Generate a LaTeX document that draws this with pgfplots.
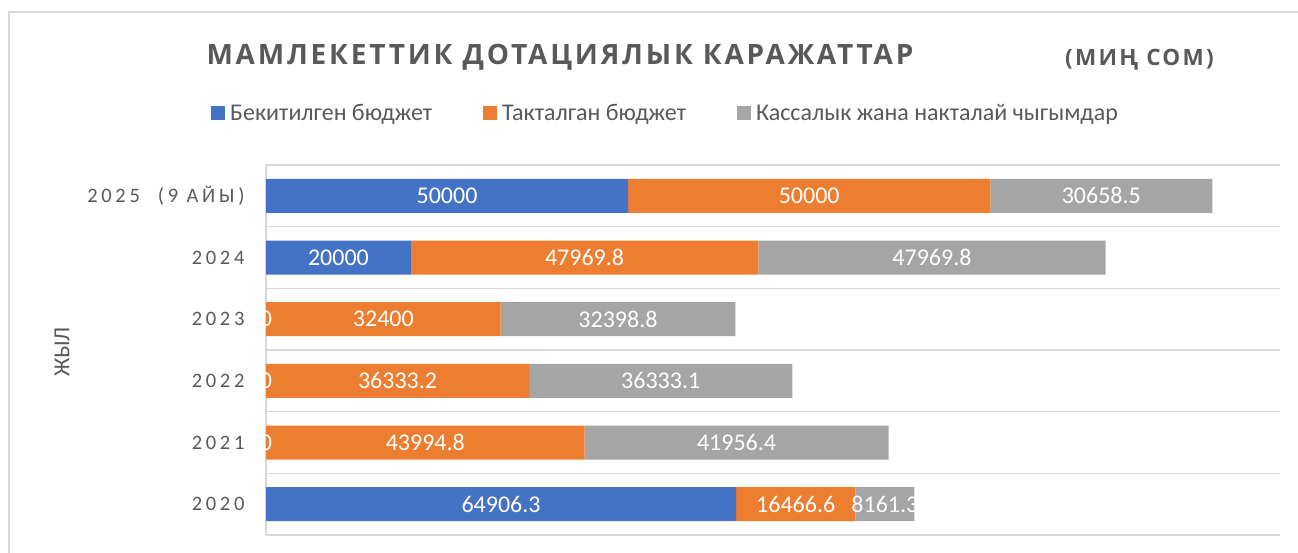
\documentclass[border=0pt]{standalone}
\usepackage{fontspec}
\setmainfont{Carlito}
\newfontfamily\titlefont[LetterSpace=10]{Open Sans}
\newfontfamily\spaced[LetterSpace=18]{Carlito}
\usepackage{pgfplots}
\usepackage{pgfplotstable}
\pgfplotsset{compat=1.18}
\definecolor{cblue}{HTML}{4472C4}
\definecolor{corange}{HTML}{ED7D31}
\definecolor{cgray}{HTML}{A5A5A5}
\definecolor{tgray}{HTML}{595959}
\definecolor{lgray}{HTML}{D9D9D9}
\pgfplotstableread{
y b t k
0 64906.3 16466.6 8161.3
1 0 43994.8 41956.4
2 0 36333.2 36333.1
3 0 32400 32398.8
4 20000 47969.8 47969.8
5 50000 50000 30658.5
}\data
\begin{document}
\begin{tikzpicture}[x=1pt,y=1pt]
\path[use as bounding box] (0,0) rectangle (1298,-553);
\draw[lgray, line width=1.5pt] (9,-560) -- (9,-12) -- (1310,-12);
\begin{axis}[
  name=main,
  at={(266pt,-535pt)}, anchor=south west,
  scale only axis, width=1014pt, height=370pt,
  xbar stacked, bar width=34pt,
  xmin=0, xmax=140000, ymin=-0.5, ymax=5.5,
  xtick=\empty,
  ytick={0,1,2,3,4,5},
  yticklabels={2020,2021,2022,2023,2024,{2025\hspace{18pt}(9 АЙЫ)}},
  yticklabel style={font=\spaced\fontsize{20.5}{24}\selectfont, text=tgray, xshift=-18pt},
  major tick length=0pt, minor tick length=0pt,
  minor ytick={-0.5,0.5,1.5,2.5,3.5,4.5,5.5},
  yminorgrids,
  minor grid style={lgray, line width=1.5pt},
  extra x ticks={0}, extra x tick labels={},
  extra x tick style={grid=major, major grid style={lgray, line width=1.5pt}},
  axis line style={draw=none},
  legend columns=3,
  legend style={draw=none, fill=none, at={(rel axis cs:-0.0542,1.1405)}, anchor=west, inner sep=0pt,
    font=\fontsize{24}{28}\selectfont, text=tgray,
    /tikz/every even column/.append style={column sep=49pt},
    /tikz/every odd column/.append style={column sep=3pt}},
  legend image code/.code={\fill[#1] (0pt,-7pt) rectangle (14pt,7pt);},
]
\addplot[fill=cblue, draw=none] table[x=b, y=y] {\data};
\addplot[fill=corange, draw=none] table[x=t, y=y] {\data};
\addplot[fill=cgray, draw=none] table[x=k, y=y] {\data};
\legend{Бекитилген бюджет, Такталган бюджет, Кассалык жана накталай чыгымдар}
\end{axis}
\begin{axis}[
  at={(266pt,-535pt)}, anchor=south west,
  scale only axis, width=1014pt, height=370pt,
  xmin=0, xmax=140000, ymin=-0.5, ymax=5.5,
  hide axis, clip=false,
  point meta=explicit,
  nodes near coords={\pgfmathprintnumber[fixed,precision=1,1000 sep={},assume math mode=true]{\pgfplotspointmeta}},
  every node near coord/.append style={anchor=center, text=white, font=\fontsize{24}{28}\selectfont},
]
\addplot[draw=none] table[x expr=\thisrow{b}/2, y=y, meta=b] {\data};
\addplot[draw=none] table[x expr=\thisrow{b}+\thisrow{t}/2, y=y, meta=t] {\data};
\addplot[draw=none] table[x expr=\thisrow{b}+\thisrow{t}+\thisrow{k}/2, y=y, meta=k] {\data};
\end{axis}
\node[rotate=90, text=tgray, font=\fontsize{23}{27}\selectfont] at (62,-352) {ЖЫЛ};
\node[anchor=base, text=tgray, font=\titlefont\bfseries\fontsize{28}{33}\selectfont] at (560,-65) {МАМЛЕКЕТТИК ДОТАЦИЯЛЫК КАРАЖАТТАР};
\node[anchor=base west, inner sep=0pt, text=tgray, font=\titlefont\bfseries\fontsize{22.5}{26}\selectfont] at (1065,-66) {(МИҢ СОМ)};
\end{tikzpicture}
\end{document}
